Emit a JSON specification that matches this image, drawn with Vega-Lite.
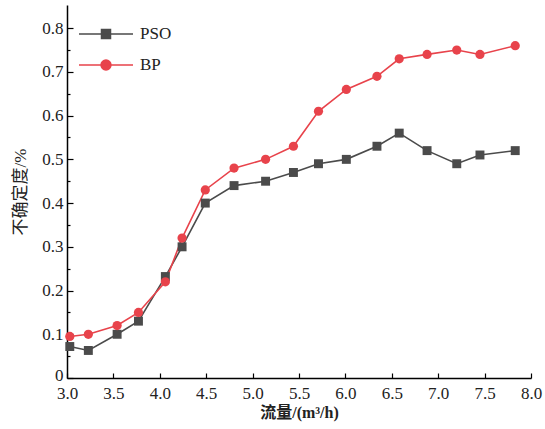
{
  "$schema": "https://vega.github.io/schema/vega-lite/v6.json",
  "width": 464,
  "height": 373,
  "autosize": {"type": "none"},
  "padding": {"left": 67, "top": 5, "right": 14, "bottom": 51},
  "config": {"view": {"stroke": null}, "font": "Liberation Serif"},
  "data": {
    "values": [
      {"flow": 3.03, "u": 0.072, "model": "PSO"},
      {"flow": 3.23, "u": 0.063, "model": "PSO"},
      {"flow": 3.54, "u": 0.10, "model": "PSO"},
      {"flow": 3.77, "u": 0.13, "model": "PSO"},
      {"flow": 4.06, "u": 0.232, "model": "PSO"},
      {"flow": 4.24, "u": 0.30, "model": "PSO"},
      {"flow": 4.49, "u": 0.40, "model": "PSO"},
      {"flow": 4.80, "u": 0.44, "model": "PSO"},
      {"flow": 5.14, "u": 0.45, "model": "PSO"},
      {"flow": 5.44, "u": 0.47, "model": "PSO"},
      {"flow": 5.71, "u": 0.49, "model": "PSO"},
      {"flow": 6.01, "u": 0.50, "model": "PSO"},
      {"flow": 6.34, "u": 0.53, "model": "PSO"},
      {"flow": 6.58, "u": 0.56, "model": "PSO"},
      {"flow": 6.88, "u": 0.52, "model": "PSO"},
      {"flow": 7.20, "u": 0.49, "model": "PSO"},
      {"flow": 7.45, "u": 0.51, "model": "PSO"},
      {"flow": 7.83, "u": 0.52, "model": "PSO"},
      {"flow": 3.03, "u": 0.095, "model": "BP"},
      {"flow": 3.23, "u": 0.10, "model": "BP"},
      {"flow": 3.54, "u": 0.12, "model": "BP"},
      {"flow": 3.77, "u": 0.15, "model": "BP"},
      {"flow": 4.06, "u": 0.22, "model": "BP"},
      {"flow": 4.24, "u": 0.32, "model": "BP"},
      {"flow": 4.49, "u": 0.43, "model": "BP"},
      {"flow": 4.80, "u": 0.48, "model": "BP"},
      {"flow": 5.14, "u": 0.50, "model": "BP"},
      {"flow": 5.44, "u": 0.53, "model": "BP"},
      {"flow": 5.71, "u": 0.61, "model": "BP"},
      {"flow": 6.01, "u": 0.66, "model": "BP"},
      {"flow": 6.34, "u": 0.69, "model": "BP"},
      {"flow": 6.58, "u": 0.73, "model": "BP"},
      {"flow": 6.88, "u": 0.74, "model": "BP"},
      {"flow": 7.20, "u": 0.75, "model": "BP"},
      {"flow": 7.45, "u": 0.74, "model": "BP"},
      {"flow": 7.83, "u": 0.76, "model": "BP"}
    ]
  },
  "encoding": {
    "x": {
      "field": "flow",
      "type": "quantitative",
      "scale": {"domain": [3, 8], "nice": false, "zero": false},
      "axis": {
        "values": [3, 3.5, 4, 4.5, 5, 5.5, 6, 6.5, 7, 7.5, 8],
        "format": ".1f",
        "grid": false,
        "tickSize": -5,
        "tickColor": "black",
        "domainColor": "black",
        "domainWidth": 1.5,
        "tickWidth": 1.2,
        "labelFont": "Liberation Serif",
        "labelFontSize": 17,
        "labelColor": "#222",
        "labelPadding": 12,
        "labelFlush": false,
        "title": "流量/(m³/h)",
        "titleFont": "Liberation Serif, Noto Sans CJK SC",
        "titleFontSize": 16,
        "titleFontWeight": "bold",
        "titleColor": "#222",
        "titlePadding": 3
      }
    },
    "y": {
      "field": "u",
      "type": "quantitative",
      "scale": {"domain": [0, 0.853], "nice": false},
      "axis": {
        "values": [0, 0.05, 0.1, 0.15, 0.2, 0.25, 0.3, 0.35, 0.4, 0.45, 0.5, 0.55, 0.6, 0.65, 0.7, 0.75, 0.8],
        "labelExpr": "round(datum.value*100)%10==0 ? (datum.value==0 ? '0' : format(datum.value,'.1f')) : ''",
        "tickSize": {"condition": {"test": "round(datum.value*100)%10==0", "value": -6}, "value": -3},
        "labelOffset": {"condition": {"test": "datum.value==0", "value": -3}, "value": 0},
        "grid": false,
        "tickColor": "black",
        "domainColor": "black",
        "domainWidth": 1.5,
        "tickWidth": 1.2,
        "labelFont": "Liberation Serif",
        "labelFontSize": 17,
        "labelColor": "#222",
        "labelPadding": 10,
        "labelFlush": false,
        "title": "不确定度/%",
        "titleFont": "Liberation Serif, Noto Sans CJK SC",
        "titleFontSize": 17,
        "titleFontWeight": "normal",
        "titleColor": "#222",
        "titlePadding": 12
      }
    },
    "color": {
      "field": "model",
      "type": "nominal",
      "scale": {"domain": ["PSO", "BP"], "range": ["#4b4b4b", "#e8434b"]},
      "legend": {
        "orient": "none",
        "legendX": 29,
        "legendY": 19,
        "title": null,
        "padding": 0,
        "symbolSize": 324,
        "symbolStrokeWidth": 1.5,
        "symbolType": "M-3,0H3M-0.5,-0.5H0.5V0.5H-0.5Z",
        "labelOffset": 24,
        "rowPadding": 13,
        "labelFont": "Liberation Serif",
        "labelFontSize": 17,
        "labelColor": "#222",
        "encode": {
          "symbols": {
            "update": {
              "shape": {"signal": "datum.value==='PSO' ? 'M-3,0H3M-0.5,-0.5H0.5V0.5H-0.5Z' : 'M-3,0H3M-0.55,0A0.55,0.55 0 1 0 0.55,0A0.55,0.55 0 1 0 -0.55,0Z'"},
              "fill": {"signal": "datum.value==='PSO' ? '#4b4b4b' : '#e8434b'"},
              "stroke": {"signal": "datum.value==='PSO' ? '#4b4b4b' : '#e8434b'"},
              "strokeWidth": {"value": 1.5}
            }
          }
        }
      }
    }
  },
  "layer": [
    {"mark": {"type": "line", "strokeWidth": 1.6}},
    {
      "transform": [{"filter": "datum.model === 'PSO'"}],
      "mark": {"type": "point", "shape": "square", "filled": true, "opacity": 1, "size": 80}
    },
    {
      "transform": [{"filter": "datum.model === 'BP'"}],
      "mark": {"type": "point", "shape": "circle", "filled": true, "opacity": 1, "size": 85}
    }
  ]
}
